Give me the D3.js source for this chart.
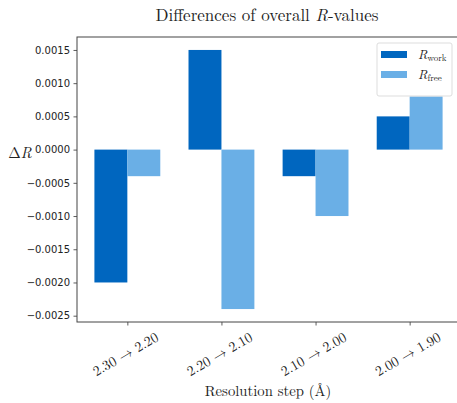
<!DOCTYPE html>
<html>
<head>
<meta charset="utf-8">
<script src="https://cdn.jsdelivr.net/npm/d3@7"></script>
<style>
  body { margin: 0; background: #fff; }
  svg { display: block; }
</style>
</head>
<body>
<svg id="chart" width="457" height="403"></svg>
<script>
const steps = ["2.30 \u2192 2.20", "2.20 \u2192 2.10", "2.10 \u2192 2.00", "2.00 \u2192 1.90"];
const rWork = [-0.0020, 0.0015, -0.0004, 0.0005];
const rFree = [-0.0004, -0.0024, -0.0010, 0.0008];
const yTicks = [0.0015, 0.0010, 0.0005, 0.0000, -0.0005, -0.0010, -0.0015, -0.0020, -0.0025];

const serif = "'Latin Modern Roman', 'DejaVu Serif', serif";
const sans = "'DejaVu Sans', sans-serif";
const colWork = "#0066bf", colFree = "#6aafe6";

const svg = d3.select("#chart");
const marge = {top: 37, bottom: 81, left: 77, right: -3};
const width = 457, height = 403;

const barW = 0.35;
const x = d3.scaleLinear().domain([-0.535, 3.535]).range([marge.left, width - marge.right]);
const y = d3.scaleLinear().domain([-0.002595, 0.001695]).range([height - marge.bottom, marge.top]);

const g = svg.append("g");

// bars
const series = [{vals: rWork, off: -barW / 2, color: colWork}, {vals: rFree, off: barW / 2, color: colFree}];
series.forEach(s => {
    g.selectAll(null).data(s.vals).enter().append("rect")
        .attr("x", (d, i) => x(i + s.off - barW / 2))
        .attr("width", x(barW) - x(0))
        .attr("y", d => y(Math.max(0, d)))
        .attr("height", d => Math.abs(y(d) - y(0)))
        .attr("fill", s.color);
});

// y axis
const yAxis = d3.axisLeft(y).tickValues(yTicks).tickSize(3.5).tickPadding(3.5)
    .tickFormat(d => d3.format(".4f")(d).replace("-", "\u2212"));
const ya = svg.append("g").attr("transform", `translate(${marge.left},0)`).call(yAxis);
ya.select(".domain").remove();
ya.selectAll("line").attr("stroke", "#333").attr("stroke-width", 0.8);
ya.selectAll("text").attr("font-family", sans).attr("font-size", 10).attr("fill", "#222");

// x axis ticks
const xAxis = d3.axisBottom(x).tickValues(d3.range(steps.length)).tickSize(3.5).tickFormat("");
const xa = svg.append("g").attr("transform", `translate(0,${height - marge.bottom})`).call(xAxis);
xa.select(".domain").remove();
xa.selectAll("line").attr("stroke", "#333").attr("stroke-width", 0.8);

steps.forEach((s, i) => {
    svg.append("text")
        .attr("transform", `translate(${x(i) - 2},${354}) rotate(-30)`)
        .attr("text-anchor", "middle").attr("dy", "0.35em")
        .attr("font-family", serif).attr("font-size", 14).attr("fill", "#222")
        .text(s);
});

// spines
svg.append("rect")
    .attr("x", marge.left).attr("y", marge.top)
    .attr("width", width - marge.right - marge.left).attr("height", height - marge.bottom - marge.top)
    .attr("fill", "none").attr("stroke", "#444").attr("stroke-width", 1);

// title and labels
const title = svg.append("text").attr("x", 267).attr("y", 21).attr("text-anchor", "middle")
    .attr("font-family", serif).attr("font-size", 17).attr("fill", "#222");
title.append("tspan").text("Differences of overall ");
title.append("tspan").attr("font-style", "italic").text("R");
title.append("tspan").text("-values");

svg.append("text").attr("x", 268).attr("y", 396).attr("text-anchor", "middle")
    .attr("font-family", serif).attr("font-size", 14.7).attr("fill", "#222")
    .text("Resolution step (\u00c5)");

const yl = svg.append("text").attr("x", 20).attr("y", 158).attr("text-anchor", "middle")
    .attr("font-family", serif).attr("font-size", 15).attr("fill", "#222");
yl.append("tspan").text("\u0394");
yl.append("tspan").attr("font-style", "italic").text("R");

// legend
const lg = svg.append("g").attr("transform", "translate(377,43)");
lg.append("rect").attr("width", 75).attr("height", 53).attr("rx", 2)
    .attr("fill", "#fff").attr("fill-opacity", 0.8).attr("stroke", "#ddd");
[["work", colWork], ["free", colFree]].forEach(([sub, c], i) => {
    const row = lg.append("g").attr("transform", `translate(0,${8 + i * 20})`);
    row.append("rect").attr("x", 4).attr("y", 0).attr("width", 26).attr("height", 7).attr("fill", c);
    const t = row.append("text").attr("x", 41).attr("y", 8)
        .attr("font-family", serif).attr("font-size", 13).attr("fill", "#222");
    t.append("tspan").attr("font-style", "italic").text("R");
    t.append("tspan").attr("font-size", 9).attr("dy", 2).text(sub);
});
</script>
</body>
</html>
